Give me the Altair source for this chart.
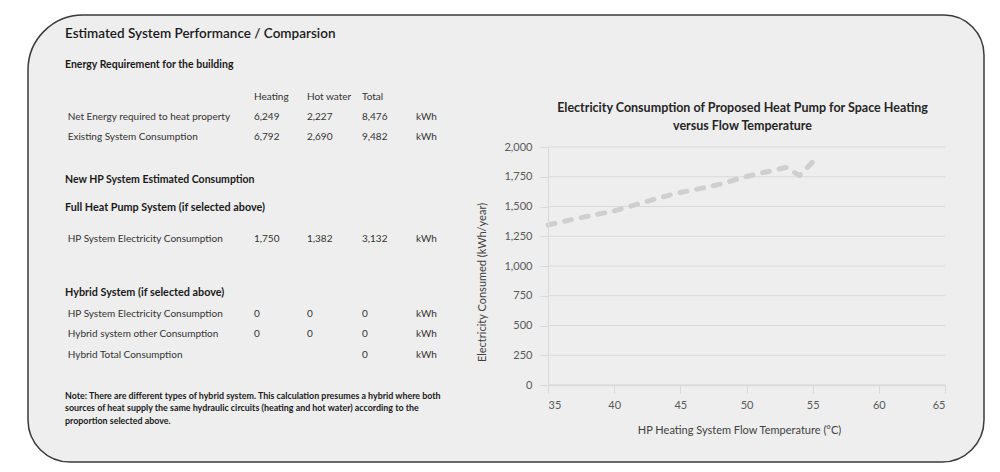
import altair as alt
import pandas as pd

# ---------------- data ----------------
temps = [35, 36, 37, 38, 39, 40, 41, 42, 43, 44, 45, 46, 47, 48, 49, 50, 51, 52, 53, 54, 55]
elec = [1345, 1370, 1395, 1418, 1440, 1463, 1495, 1528, 1560, 1590, 1618, 1640, 1662,
        1688, 1720, 1752, 1778, 1803, 1828, 1760, 1875]

x_ticks = [35, 40, 45, 50, 55, 60, 65]
y_ticks = [0, 250, 500, 750, 1000, 1250, 1500, 1750, 2000]

chart_title = ["Electricity Consumption of Proposed Heat Pump for Space Heating",
               "versus Flow Temperature"]
x_title = "HP Heating System Flow Temperature (°C)"
y_title = "Electricity Consumed (kWh/year)"

main_title = "Estimated System Performance / Comparsion"
section_energy = "Energy Requirement for the building"
col_headers = ["Heating", "Hot water", "Total"]
energy_labels = ["Net Energy required to heat property", "Existing System Consumption"]
energy_heating = ["6,249", "6,792"]
energy_hot = ["2,227", "2,690"]
energy_total = ["8,476", "9,482"]
section_new = "New HP System Estimated Consumption"
section_full = "Full Heat Pump System (if selected above)"
full_labels = ["HP System Electricity Consumption"]
full_heating = ["1,750"]
full_hot = ["1,382"]
full_total = ["3,132"]
section_hybrid = "Hybrid System (if selected above)"
hybrid_labels = ["HP System Electricity Consumption", "Hybrid system other Consumption",
                 "Hybrid Total Consumption"]
hybrid_heating = ["0", "0", ""]
hybrid_hot = ["0", "0", ""]
hybrid_total = ["0", "0", "0"]
unit = "kWh"
note_lines = [
    "Note: There are different types of hybrid system. This calculation presumes a hybrid where both",
    "sources of heat supply the same hydraulic circuits (heating and hot water) according to the",
    "proportion selected above.",
]

# ---------------- layout ----------------
FONT = "Lato"
PLOT_W, PLOT_H = 397, 238
PAD = {"left": 540, "top": 139, "right": 47, "bottom": 79}
OX, OY = 8 + PAD["left"], 8 + PAD["top"]   # page position of plot origin


def vx(px):
    return px - OX


def vy(py):
    return py - OY


AXIS_GREY = "#d9d9d9"
LABEL_GREY = "#595959"

x_scale = alt.Scale(domain=[35, 65], nice=False, zero=False)
y_scale = alt.Scale(domain=[0, 2000], nice=False)

x_axis = alt.Axis(values=x_ticks, format="d", title=x_title, grid=False,
                  domainColor=AXIS_GREY, domainWidth=1.5,
                  tickColor=AXIS_GREY, tickSize=8, tickWidth=1,
                  labelColor=LABEL_GREY, labelFont=FONT, labelFontSize=11, labelPadding=6,
                  titleFont=FONT, titleFontSize=11, titleFontWeight="normal",
                  titleColor="#404040", titleX=191, titleY=45,
                  titleBaseline="middle", titleAlign="center", zindex=1)

y_axis = alt.Axis(values=y_ticks, format=",.0f", title=y_title, grid=False,
                  domainColor=AXIS_GREY, domainWidth=1,
                  tickColor=AXIS_GREY, tickSize=8, tickWidth=1,
                  labelColor=LABEL_GREY, labelFont=FONT, labelFontSize=11, labelPadding=8,
                  titleFont=FONT, titleFontSize=11, titleFontWeight="normal",
                  titleColor="#404040", titleX=-66, titleY=135, titleAngle=270,
                  titleBaseline="middle", titleAlign="center", zindex=1)

# frame
frame = alt.Chart(alt.Data(values=[{}])).mark_rect(
    fill="#eeeeee", stroke="#3a3a3a", strokeWidth=1.5,
    cornerRadiusTopLeft=55, cornerRadiusTopRight=40,
    cornerRadiusBottomRight=42, cornerRadiusBottomLeft=42,
).encode(x=alt.value(vx(28)), x2=alt.value(vx(984)),
         y=alt.value(vy(15)), y2=alt.value(vy(462)))

grid = alt.Chart(pd.DataFrame({"v": y_ticks})).mark_rule(
    color=AXIS_GREY, strokeWidth=1
).encode(
    y=alt.Y("v:Q", scale=y_scale, axis=y_axis),
    x=alt.datum(35), x2=alt.datum(65),
)

line = alt.Chart(pd.DataFrame({"T": temps, "E": elec})).mark_line(
    color="#cfcfcf", strokeWidth=5, strokeDash=[7, 10], strokeCap="round", strokeJoin="round"
).encode(
    x=alt.X("T:Q", scale=x_scale, axis=x_axis),
    y=alt.Y("E:Q", scale=y_scale, axis=y_axis),
)


def txt(s, px, py, size=10, weight="normal", color="#333333", align="left"):
    return alt.Chart(alt.Data(values=[{"t": s}])).mark_text(
        align=align, baseline="middle", font=FONT, fontSize=size,
        fontWeight=weight, color=color,
    ).encode(text="t:N", x=alt.value(vx(px)), y=alt.value(vy(py)))


texts = []
# chart title
texts.append(txt(chart_title[0], 742.5, 107.7, 12.5, "bold", "#262626", "center"))
texts.append(txt(chart_title[1], 742.5, 125.7, 12.5, "bold", "#262626", "center"))

# table
LX, RX = 65, 67.7
COLS = [254, 307, 362]
UNIT_X = 416
texts.append(txt(main_title, LX, 34.3, 13.5, 600, "#1a1a1a"))
texts.append(txt(section_energy, LX, 65, 10.5, "bold", "#1a1a1a"))
for c, h in zip(COLS, col_headers):
    texts.append(txt(h, c, 96.7))


def add_rows(labels, heat, hot, tot, ys):
    for i, y in enumerate(ys):
        texts.append(txt(labels[i], RX, y))
        for c, v in zip(COLS, [heat[i], hot[i], tot[i]]):
            if v:
                texts.append(txt(v, c, y))
        texts.append(txt(unit, UNIT_X, y))


add_rows(energy_labels, energy_heating, energy_hot, energy_total, [116.7, 137.3])
texts.append(txt(section_new, LX, 180, 10.5, "bold", "#1a1a1a"))
texts.append(txt(section_full, LX, 208.3, 10.8, "bold", "#1a1a1a"))
add_rows(full_labels, full_heating, full_hot, full_total, [239.3])
texts.append(txt(section_hybrid, LX, 293.3, 10.8, "bold", "#1a1a1a"))
add_rows(hybrid_labels, hybrid_heating, hybrid_hot, hybrid_total, [314.3, 334.3, 355])
for y, s in zip([395.7, 408.3, 421], note_lines):
    texts.append(txt(s, LX, y, 8.9, "bold", "#1a1a1a"))

chart = alt.layer(frame, grid, line, *texts).properties(
    width=PLOT_W, height=PLOT_H, padding=PAD,
    autosize=alt.AutoSizeParams(type="none"),
).configure_view(strokeWidth=0)

chart.save("out.html", embed_options={"renderer": "svg", "actions": False})
